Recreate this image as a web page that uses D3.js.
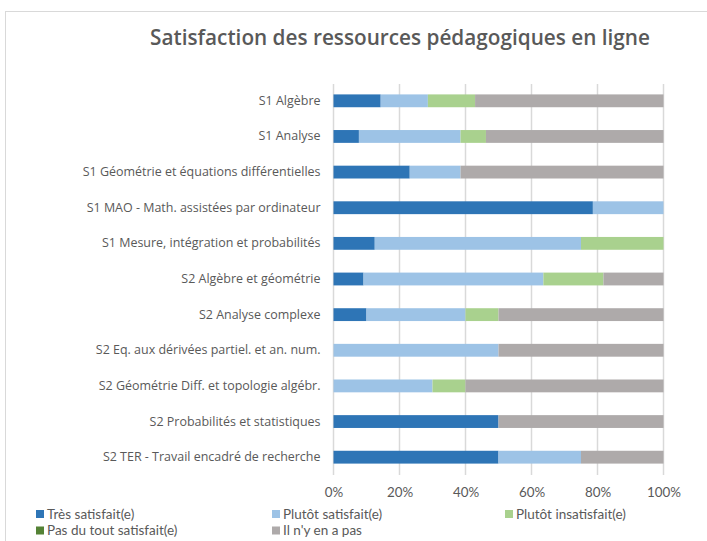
<!DOCTYPE html>
<html><head><meta charset="utf-8">
<script src="https://cdn.jsdelivr.net/npm/d3@7"></script>
<style>
html,body{margin:0;padding:0;background:#fff;overflow:hidden;}
svg{display:block;}
</style></head>
<body>
<script>
const categories = [
  "S1 Algèbre",
  "S1 Analyse",
  "S1 Géométrie et équations différentielles",
  "S1 MAO - Math. assistées par ordinateur",
  "S1 Mesure, intégration et probabilités",
  "S2 Algèbre et géométrie",
  "S2 Analyse complexe",
  "S2 Eq. aux dérivées partiel. et an. num.",
  "S2 Géométrie Diff. et topologie algébr.",
  "S2 Probabilités et statistiques",
  "S2 TER - Travail encadré de recherche"
];
const seriesNames = ["Très satisfait(e)", "Plutôt satisfait(e)", "Plutôt insatisfait(e)", "Pas du tout satisfait(e)", "Il n'y en a pas"];
const seriesColors = ["#2e75b6", "#9dc3e6", "#a9d18e", "#548235", "#aeaaaa"];
const tresSatisfait     = [14.3, 7.7, 23.1, 78.6, 12.5, 9.1, 10, 0, 0, 50, 50];
const plutotSatisfait   = [14.3, 30.8, 15.4, 21.4, 62.5, 54.5, 30, 50, 30, 0, 25];
const plutotInsatisfait = [14.3, 7.7, 0, 0, 25, 18.2, 10, 0, 10, 0, 0];
const pasDuTout         = [0, 0, 0, 0, 0, 0, 0, 0, 0, 0, 0];
const ilNyEnAPas        = [57.1, 53.8, 61.5, 0, 0, 18.2, 50, 50, 60, 50, 25];
const tickValues = [0, 20, 40, 60, 80, 100];
const title = "Satisfaction des ressources pédagogiques en ligne";

const W = 707, H = 541;
const fontLabel = "'Open Sans', Lato, sans-serif";
const fontTitle = "'Open Sans', Lato, sans-serif";
const fontSmall = "Lato, 'Open Sans', sans-serif";
const svg = d3.select("body").append("svg").attr("width", W).attr("height", H);

function fitFont(sel, refNode, targetW, baseSize) {
  const w = refNode.getComputedTextLength();
  const fs = baseSize * targetW / w;
  sel.attr("font-size", fs.toFixed(2));
  return fs;
}

// chart border
svg.append("rect").attr("x", 5.5).attr("y", 11.5).attr("width", 760).attr("height", 600)
  .attr("fill", "#fff").attr("stroke", "#d9d9d9").attr("stroke-width", 1);

const tt = svg.append("text").attr("x", 400).attr("y", 45).attr("text-anchor", "middle")
  .attr("font-family", fontTitle).attr("font-size", 18).attr("font-weight", 600).attr("fill", "#595959")
  .text(title);
fitFont(tt, tt.node(), 500, 18);

const rows = categories.map((c, i) => ({cat: c, vals: [tresSatisfait[i], plutotSatisfait[i], plutotInsatisfait[i], pasDuTout[i], ilNyEnAPas[i]]}));

const x = d3.scaleLinear().domain([0, 100]).range([333.5, 663.5]);
const y = d3.scaleBand().domain(categories).range([83, 475]).paddingInner(0.64).paddingOuter(0.32);

// gridlines
svg.append("g").selectAll("line").data(tickValues).join("line")
  .attr("x1", d => x(d)).attr("x2", d => x(d)).attr("y1", 84).attr("y2", 475)
  .attr("stroke", "#d9d9d9").attr("stroke-width", 1.5);

// bars
const stack = d3.stack().keys(d3.range(5)).value((d, k) => d.vals[k]);
const layers = stack(rows);
svg.append("g").selectAll("g").data(layers).join("g")
  .attr("fill", (d, i) => seriesColors[i])
  .selectAll("rect").data(d => d).join("rect")
  .attr("x", d => x(d[0])).attr("width", d => Math.max(0, x(d[1]) - x(d[0])))
  .attr("y", d => y(d.data.cat)).attr("height", y.bandwidth());

// y axis labels
const yAxis = d3.axisLeft(y).tickSize(0).tickPadding(13);
const gy = svg.append("g").attr("transform", `translate(${x(0)},0)`).call(yAxis);
gy.select(".domain").remove();
const ylab = gy.selectAll("text").attr("font-family", fontLabel).attr("font-size", 12).attr("fill", "#595959");
fitFont(ylab, ylab.filter(d => d === categories[2]).node(), 238, 12);

// x axis labels
const xAxis = d3.axisBottom(x).tickValues(tickValues).tickFormat(d => d + "%").tickSize(0).tickPadding(13);
const gx = svg.append("g").attr("transform", `translate(0,${475})`).call(xAxis);
gx.select(".domain").remove();
const xlab = gx.selectAll("text").attr("font-family", fontSmall).attr("font-size", 13).attr("fill", "#595959");
fitFont(xlab, xlab.filter(d => d === 100).node(), 34, 13);

// legend
const legendPos = [[36, 514], [272, 514], [505, 514], [36, 530.5], [272, 530.5]];
const lg = svg.append("g").selectAll("g").data(seriesNames).join("g")
  .attr("transform", (d, i) => `translate(${legendPos[i][0]},${legendPos[i][1]})`);
lg.append("rect").attr("x", 0).attr("y", -4).attr("width", 8).attr("height", 8)
  .attr("fill", (d, i) => seriesColors[i]);
lg.append("text").attr("x", 11).attr("y", 0).attr("dy", "0.35em")
  .attr("font-family", fontSmall).attr("font-size", 13.5).attr("fill", "#595959").text(d => d);
</script>
</body></html>
